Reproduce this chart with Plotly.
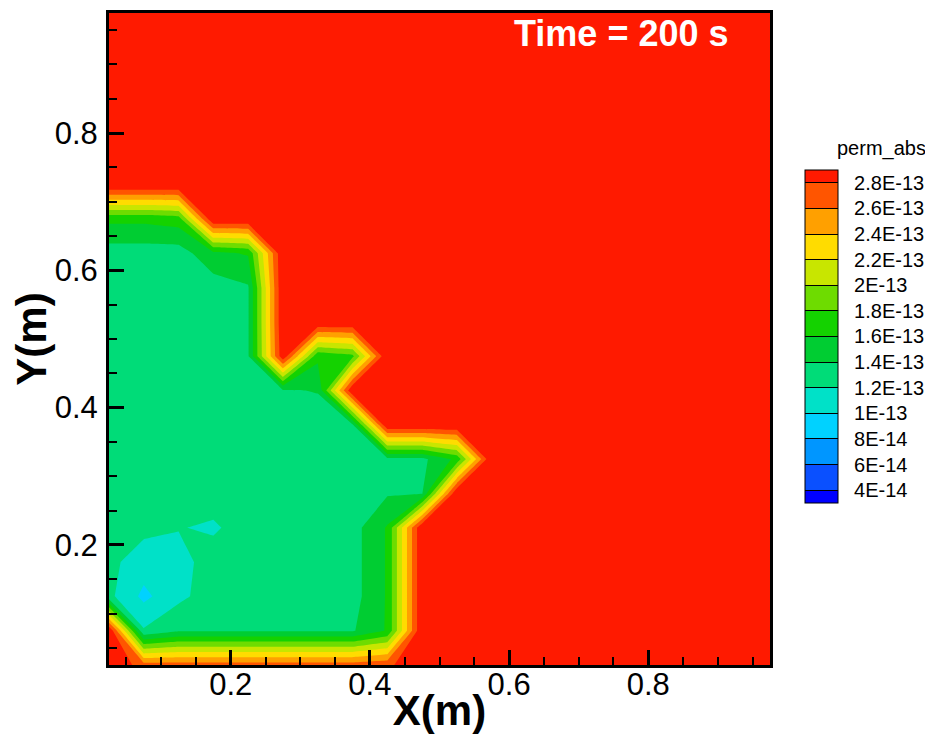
import plotly.graph_objects as go

# ---- data (perm_abs, in units of 1E-13) ----
x_m = [0.025, 0.075, 0.125, 0.175, 0.225, 0.275, 0.325, 0.375, 0.425, 0.475,
       0.525, 0.575, 0.625, 0.675, 0.725, 0.775, 0.825, 0.875, 0.925, 0.975]
y_m = [0.025, 0.075, 0.125, 0.175, 0.225, 0.275, 0.325, 0.375, 0.425, 0.475,
       0.525, 0.575, 0.625, 0.675, 0.725, 0.775, 0.825, 0.875, 0.925, 0.975]

row_y00 = [3.0, 2.7, 2.7, 2.7, 2.7, 2.7, 2.7, 2.7, 2.75, 3.0, 3.0, 3.0, 3.0, 3.0, 3.0, 3.0, 3.0, 3.0, 3.0, 3.0]
row_y01 = [3.0, 1.22, 1.38, 1.38, 1.38, 1.38, 1.38, 1.38, 1.62, 3.0, 3.0, 3.0, 3.0, 3.0, 3.0, 3.0, 3.0, 3.0, 3.0, 3.0]
row_y02 = [1.25, 0.95, 1.15, 1.3, 1.3, 1.3, 1.3, 1.32, 1.62, 3.0, 3.0, 3.0, 3.0, 3.0, 3.0, 3.0, 3.0, 3.0, 3.0, 3.0]
row_y03 = [1.25, 1.1, 1.12, 1.3, 1.3, 1.3, 1.3, 1.32, 1.62, 3.0, 3.0, 3.0, 3.0, 3.0, 3.0, 3.0, 3.0, 3.0, 3.0, 3.0]
row_y04 = [1.3, 1.25, 1.21, 1.17, 1.3, 1.3, 1.3, 1.32, 1.62, 3.0, 3.0, 3.0, 3.0, 3.0, 3.0, 3.0, 3.0, 3.0, 3.0, 3.0]
row_y05 = [1.3, 1.3, 1.3, 1.3, 1.3, 1.3, 1.3, 1.3, 1.38, 1.38, 3.0, 3.0, 3.0, 3.0, 3.0, 3.0, 3.0, 3.0, 3.0, 3.0]
row_y06 = [1.3, 1.3, 1.3, 1.3, 1.3, 1.3, 1.3, 1.3, 1.35, 1.35, 1.65, 3.0, 3.0, 3.0, 3.0, 3.0, 3.0, 3.0, 3.0, 3.0]
row_y07 = [1.3, 1.3, 1.3, 1.3, 1.3, 1.3, 1.3, 1.38, 3.0, 3.0, 3.0, 3.0, 3.0, 3.0, 3.0, 3.0, 3.0, 3.0, 3.0, 3.0]
row_y08 = [1.3, 1.3, 1.3, 1.3, 1.3, 1.38, 1.41, 3.0, 3.0, 3.0, 3.0, 3.0, 3.0, 3.0, 3.0, 3.0, 3.0, 3.0, 3.0, 3.0]
row_y09 = [1.3, 1.3, 1.3, 1.3, 1.38, 2.95, 1.65, 1.75, 3.0, 3.0, 3.0, 3.0, 3.0, 3.0, 3.0, 3.0, 3.0, 3.0, 3.0, 3.0]
row_y10 = [1.3, 1.3, 1.3, 1.3, 1.38, 3.0, 3.0, 3.0, 3.0, 3.0, 3.0, 3.0, 3.0, 3.0, 3.0, 3.0, 3.0, 3.0, 3.0, 3.0]
row_y11 = [1.3, 1.3, 1.3, 1.3, 1.38, 3.0, 3.0, 3.0, 3.0, 3.0, 3.0, 3.0, 3.0, 3.0, 3.0, 3.0, 3.0, 3.0, 3.0, 3.0]
row_y12 = [1.3, 1.3, 1.3, 1.55, 1.62, 3.0, 3.0, 3.0, 3.0, 3.0, 3.0, 3.0, 3.0, 3.0, 3.0, 3.0, 3.0, 3.0, 3.0, 3.0]
row_y13 = [1.65, 1.65, 1.7, 3.0, 3.0, 3.0, 3.0, 3.0, 3.0, 3.0, 3.0, 3.0, 3.0, 3.0, 3.0, 3.0, 3.0, 3.0, 3.0, 3.0]
row_y14 = [3.0, 3.0, 3.0, 3.0, 3.0, 3.0, 3.0, 3.0, 3.0, 3.0, 3.0, 3.0, 3.0, 3.0, 3.0, 3.0, 3.0, 3.0, 3.0, 3.0]
row_y15 = [3.0, 3.0, 3.0, 3.0, 3.0, 3.0, 3.0, 3.0, 3.0, 3.0, 3.0, 3.0, 3.0, 3.0, 3.0, 3.0, 3.0, 3.0, 3.0, 3.0]
row_y16 = [3.0, 3.0, 3.0, 3.0, 3.0, 3.0, 3.0, 3.0, 3.0, 3.0, 3.0, 3.0, 3.0, 3.0, 3.0, 3.0, 3.0, 3.0, 3.0, 3.0]
row_y17 = [3.0, 3.0, 3.0, 3.0, 3.0, 3.0, 3.0, 3.0, 3.0, 3.0, 3.0, 3.0, 3.0, 3.0, 3.0, 3.0, 3.0, 3.0, 3.0, 3.0]
row_y18 = [3.0, 3.0, 3.0, 3.0, 3.0, 3.0, 3.0, 3.0, 3.0, 3.0, 3.0, 3.0, 3.0, 3.0, 3.0, 3.0, 3.0, 3.0, 3.0, 3.0]
row_y19 = [3.0, 3.0, 3.0, 3.0, 3.0, 3.0, 3.0, 3.0, 3.0, 3.0, 3.0, 3.0, 3.0, 3.0, 3.0, 3.0, 3.0, 3.0, 3.0, 3.0]

perm_abs = [row_y00, row_y01, row_y02, row_y03, row_y04, row_y05, row_y06, row_y07,
            row_y08, row_y09, row_y10, row_y11, row_y12, row_y13, row_y14, row_y15,
            row_y16, row_y17, row_y18, row_y19]

level_start, level_end, level_step = 0.4, 2.8, 0.2
level_colors = ["#0000ff", "#0a50ff", "#0096ff", "#00d2ff", "#00e1c8", "#00dc78",
                "#00cd32", "#14d200", "#6edc00", "#c8e600", "#ffdc00", "#ffa000",
                "#ff5500", "#ff1a00"]
tick_vals = [0.4, 0.6, 0.8, 1.0, 1.2, 1.4, 1.6, 1.8, 2.0, 2.2, 2.4, 2.6, 2.8]
tick_text = ["4E-14", "6E-14", "8E-14", "1E-13", "1.2E-13", "1.4E-13", "1.6E-13",
             "1.8E-13", "2E-13", "2.2E-13", "2.4E-13", "2.6E-13", "2.8E-13"]
legend_title = "perm_abs"
time_label = "Time = 200 s"

n_col = len(level_colors)
colorscale = [[k / (n_col - 1), c] for k, c in enumerate(level_colors)]
NB = "\u00a0"

FONT = "Liberation Sans, Arial, sans-serif"

fig = go.Figure()
fig.add_trace(go.Contour(
    x=x_m, y=y_m, z=perm_abs,
    colorscale=colorscale,
    contours=dict(start=level_start, end=level_end, size=level_step,
                  coloring="fill", showlines=False),
    line=dict(smoothing=0, width=0),
    colorbar=dict(
        tickmode="array", tickvals=tick_vals, ticktext=[NB * 2 + t for t in tick_text],
        ticks="inside", ticklen=33, tickwidth=1, tickcolor="black",
        tickfont=dict(family=FONT, size=20, color="black"),
        thickness=33, lenmode="pixels", len=333,
        xref="container", yref="paper",
        x=0.8691, xanchor="left", y=0.2485, yanchor="bottom",
        xpad=0, ypad=0, outlinewidth=1, outlinecolor="black",
    ),
    hoverinfo="skip",
))

axis_common = dict(
    showgrid=False, zeroline=False,
    showline=True, linewidth=3, linecolor="black", mirror=True,
    ticks="inside", ticklen=15, tickwidth=3, tickcolor="black",
    tick0=0, dtick=0.2,
    tickfont=dict(family=FONT, size=31, color="black"),
    minor=dict(tickmode="linear", tick0=0, dtick=0.05, ticks="inside",
               ticklen=8, tickwidth=1.5, tickcolor="black", showgrid=False),
)

fig.update_layout(
    width=917, height=726,
    margin=dict(l=101, r=155, t=2, b=64),
    paper_bgcolor="white", plot_bgcolor="white",
    xaxis=dict(range=[0.025, 0.975], ticklabelstandoff=-10,
               title=dict(text="<b>X(m)</b>", standoff=0,
                          font=dict(family=FONT, size=42, color="black")),
               **axis_common),
    yaxis=dict(range=[0.025, 0.975], ticklabelstandoff=2,
               title=dict(text="<b>Y(m)</b>", standoff=0,
                          font=dict(family=FONT, size=42, color="black")),
               **axis_common),
    annotations=[
        dict(text="<b>" + time_label + "</b>", xref="paper", yref="paper",
             x=0.7753, y=0.968, xanchor="center", yanchor="middle",
             showarrow=False, font=dict(family=FONT, size=36, color="white")),
        dict(text=legend_title, xref="paper", yref="paper",
             x=1.1694, y=0.7924, xanchor="center", yanchor="middle",
             showarrow=False, font=dict(family=FONT, size=20, color="black")),
    ],
)

fig.write_html("out.html")
